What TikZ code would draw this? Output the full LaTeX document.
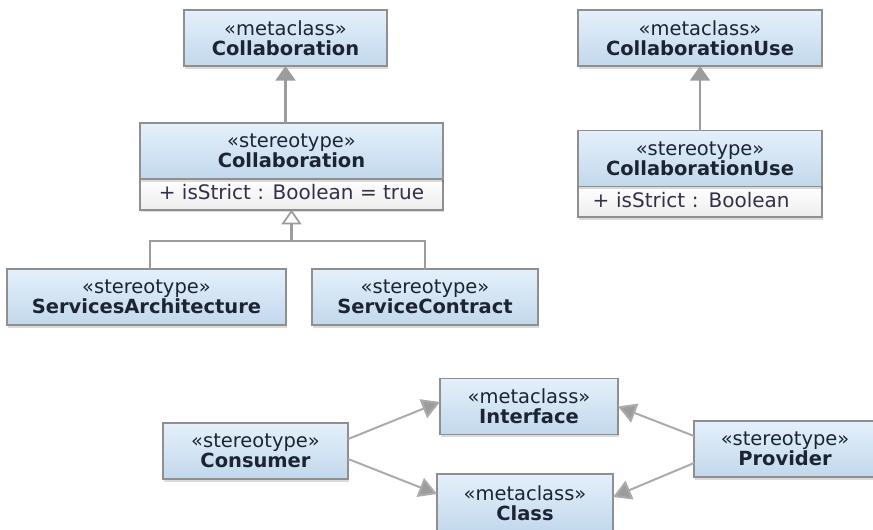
\documentclass[tikz,border=0pt]{standalone}
\usepackage{fontspec}
\setmainfont{DejaVu Sans}
\usetikzlibrary{arrows.meta,shadows}
\definecolor{edgegray}{HTML}{8F8F8F}
\definecolor{linkgray}{HTML}{9C9C9C}
\definecolor{lightlink}{HTML}{ABABAB}
\definecolor{boxtop}{HTML}{E4F0FB}
\definecolor{boxbot}{HTML}{C2D8EC}
\definecolor{inktext}{HTML}{1C2433}
\definecolor{attrtext}{HTML}{33304A}
\tikzset{
  x=0.75pt,y=-0.75pt,
  umlbase/.style={draw=edgegray,line width=1.3pt,inner sep=0pt,outer sep=0pt,
    drop shadow={shadow xshift=0.8pt,shadow yshift=-2pt,opacity=.14,fill=black}},
  classbox/.style={umlbase,top color=boxtop,bottom color=boxbot,align=center,text=inktext,
    font=\fontsize{14.6}{15}\selectfont},
  attrbox/.style={umlbase,top color=white,bottom color=black!7,text=attrtext,
    font=\fontsize{15}{15}\selectfont,minimum height=23.5pt},
  gen/.style={draw=linkgray,line width=1.6pt,-{Triangle[length=11pt,width=15pt,fill=linkgray]}},
  genside/.style={draw=lightlink,line width=1.5pt,-{Triangle[length=13.5pt,width=15pt,fill=linkgray]}},
  genopen/.style={draw=linkgray,line width=2.2pt,-{Triangle[open,length=11pt,width=15pt,fill=white,line width=1.3pt]}},
  branch/.style={draw=linkgray,line width=1.3pt},
}
\newcommand{\stereo}[2]{«#1»\\\textbf{#2}}
\newcommand{\attrline}[1]{\raisebox{2.6pt}{#1}}
\begin{document}
\begin{tikzpicture}
\useasboundingbox (0,0) rectangle (873,529);
% top left
\node[classbox,minimum width=152.25pt,minimum height=42pt] (metaCollab) at (285.5,38) {\stereo{metaclass}{Collaboration}};
\node[attrbox,minimum width=227.5pt,align=center] (attrCollab) at (291.5,194) {\attrline{+ isStrict : Boolean = true}};
\node[classbox,minimum width=227.5pt,minimum height=42pt] (stCollab) at (291.5,151) {\stereo{stereotype}{Collaboration}};
\node[classbox,minimum width=209pt,minimum height=42pt] (services) at (146.5,297) {\stereo{stereotype}{ServicesArchitecture}};
\node[classbox,minimum width=169.5pt,minimum height=42pt] (contract) at (425,297) {\stereo{stereotype}{ServiceContract}};
% top right
\node[classbox,minimum width=183pt,minimum height=42pt] (metaUse) at (700,38) {\stereo{metaclass}{CollaborationUse}};
\node[attrbox,minimum width=183pt,text width=161pt,align=left] (attrUse) at (700,201.5) {\attrline{+ isStrict : Boolean}};
\node[classbox,minimum width=183pt,minimum height=42pt] (stUse) at (700,158.5) {\stereo{stereotype}{CollaborationUse}};
% bottom
\node[classbox,minimum width=139pt,minimum height=42pt] (consumer) at (255.5,451) {\stereo{stereotype}{Consumer}};
\node[classbox,minimum width=133.5pt,minimum height=42pt] (interface) at (529,406.5) {\stereo{metaclass}{Interface}};
\node[classbox,minimum width=132pt,minimum height=43.5pt] (class) at (525,503) {\stereo{metaclass}{Class}};
\node[classbox,minimum width=136.5pt,minimum height=42pt] (provider) at (785,449) {\stereo{stereotype}{Provider}};
% connectors
\draw[gen] (stCollab.north -| metaCollab.south) -- (metaCollab.south);
\draw[gen] (stUse.north) -- (metaUse.south);
\coordinate (junction) at (291.5,241);
\coordinate (branchL) at (150,241);
\draw[branch] (services.north -| branchL) -- (branchL) -- (junction -| contract.north) -- (contract.north);
\draw[genopen] (junction) -- (attrCollab.south);
\draw[genside] ([yshift=9pt]consumer.east) -- ([yshift=3.4pt]interface.west);
\draw[genside] ([yshift=-6pt]consumer.east) -- ([yshift=6.75pt]class.west);
\draw[genside] ([yshift=9.75pt]provider.west) -- (interface.east);
\draw[genside] ([yshift=-10.5pt]provider.west) -- ([yshift=4.5pt]class.east);
\end{tikzpicture}
\end{document}
